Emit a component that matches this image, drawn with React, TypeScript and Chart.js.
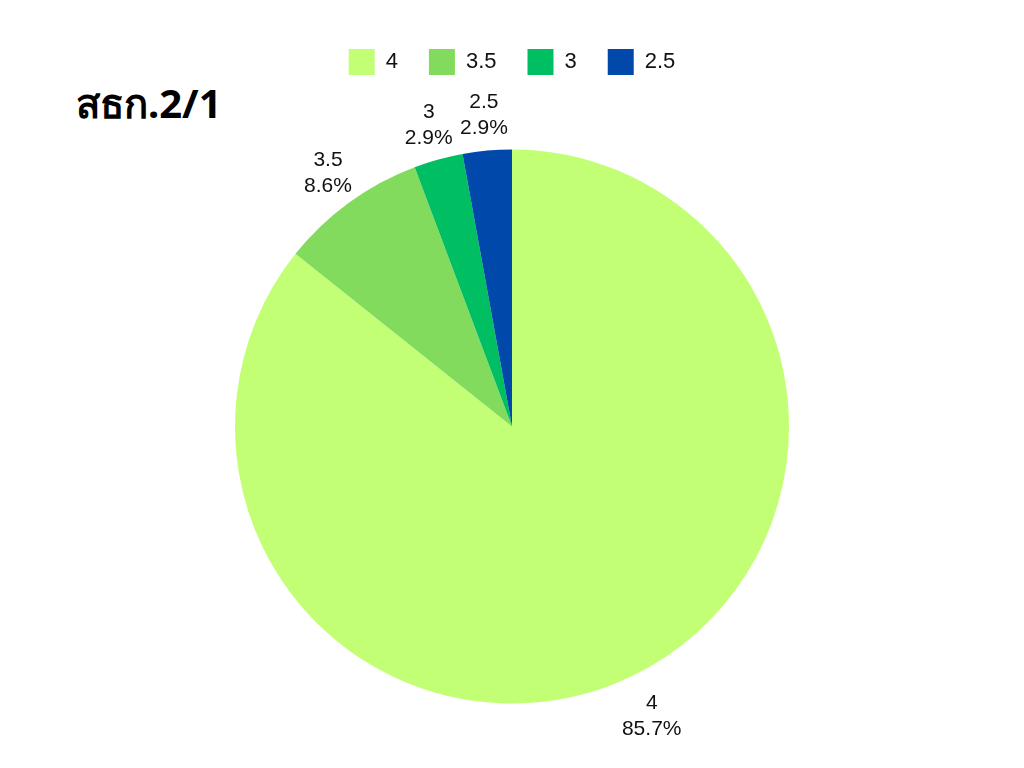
import React, { useEffect, useRef } from "react";
import { Chart, registerables } from "chart.js";

Chart.register(...registerables);

const TITLE = "สธก.2/1";
const categories = ["4", "3.5", "3", "2.5"];
const counts = [30, 3, 1, 1];
const colors = ["#C3FF75", "#82DB5C", "#00BF63", "#0049AB"];

const FONT = "'Liberation Sans', Arial, sans-serif";

const outsideLabels = {
  id: "outsideLabels",
  afterDatasetsDraw(chart: any) {
    const ctx = chart.ctx;
    const meta = chart.getDatasetMeta(0);
    const data = chart.data.datasets[0].data as number[];
    const total = data.reduce((a, b) => a + b, 0);
    ctx.save();
    ctx.font = "21px " + FONT;
    ctx.fillStyle = "#111";
    ctx.textAlign = "center";
    ctx.textBaseline = "middle";
    meta.data.forEach((arc: any, i: number) => {
      const mid = (arc.startAngle + arc.endAngle) / 2;
      const r = arc.outerRadius + 36 + 10 * Math.max(0, Math.sin(mid));
      const x = arc.x + Math.cos(mid) * r;
      const y = arc.y + Math.sin(mid) * r;
      const pct = ((data[i] / total) * 100).toFixed(1) + "%";
      ctx.fillText(String(chart.data.labels[i]), x, y - 13);
      ctx.fillText(pct, x, y + 13);
    });
    ctx.restore();
  },
};

export default function App() {
  const ref = useRef<HTMLCanvasElement>(null);
  useEffect(() => {
    const chart = new Chart(ref.current!, {
      type: "pie",
      data: {
        labels: categories,
        datasets: [
          {
            data: counts,
            backgroundColor: colors,
            borderWidth: 0,
          },
        ],
      },
      options: {
        animation: false,
        responsive: true,
        maintainAspectRatio: false,
        radius: 277,
        layout: { padding: { top: 18, bottom: 0, left: 0, right: 0 } },
        plugins: {
          legend: {
            position: "top",
            labels: {
              boxWidth: 26,
              boxHeight: 26,
              padding: 31,
              color: "#111",
              font: { size: 22, family: FONT },
            },
          },
          tooltip: { enabled: false },
        },
      },
      plugins: [outsideLabels],
    });
    return () => chart.destroy();
  }, []);
  return (
    <div style={{ position: "absolute", left: 0, top: 0, width: 1024, height: 768, background: "#fff" }}>
      <div
        style={{
          position: "absolute",
          left: 76,
          top: 79,
          fontFamily: "'Noto Sans', sans-serif",
          fontWeight: 700,
          fontSize: 40,
          lineHeight: "48px",
          color: "#000",
        }}
      >
        {TITLE}
      </div>
      <canvas ref={ref} style={{ position: "absolute", left: 0, top: 0, width: 1024, height: 768 }} />
    </div>
  );
}
